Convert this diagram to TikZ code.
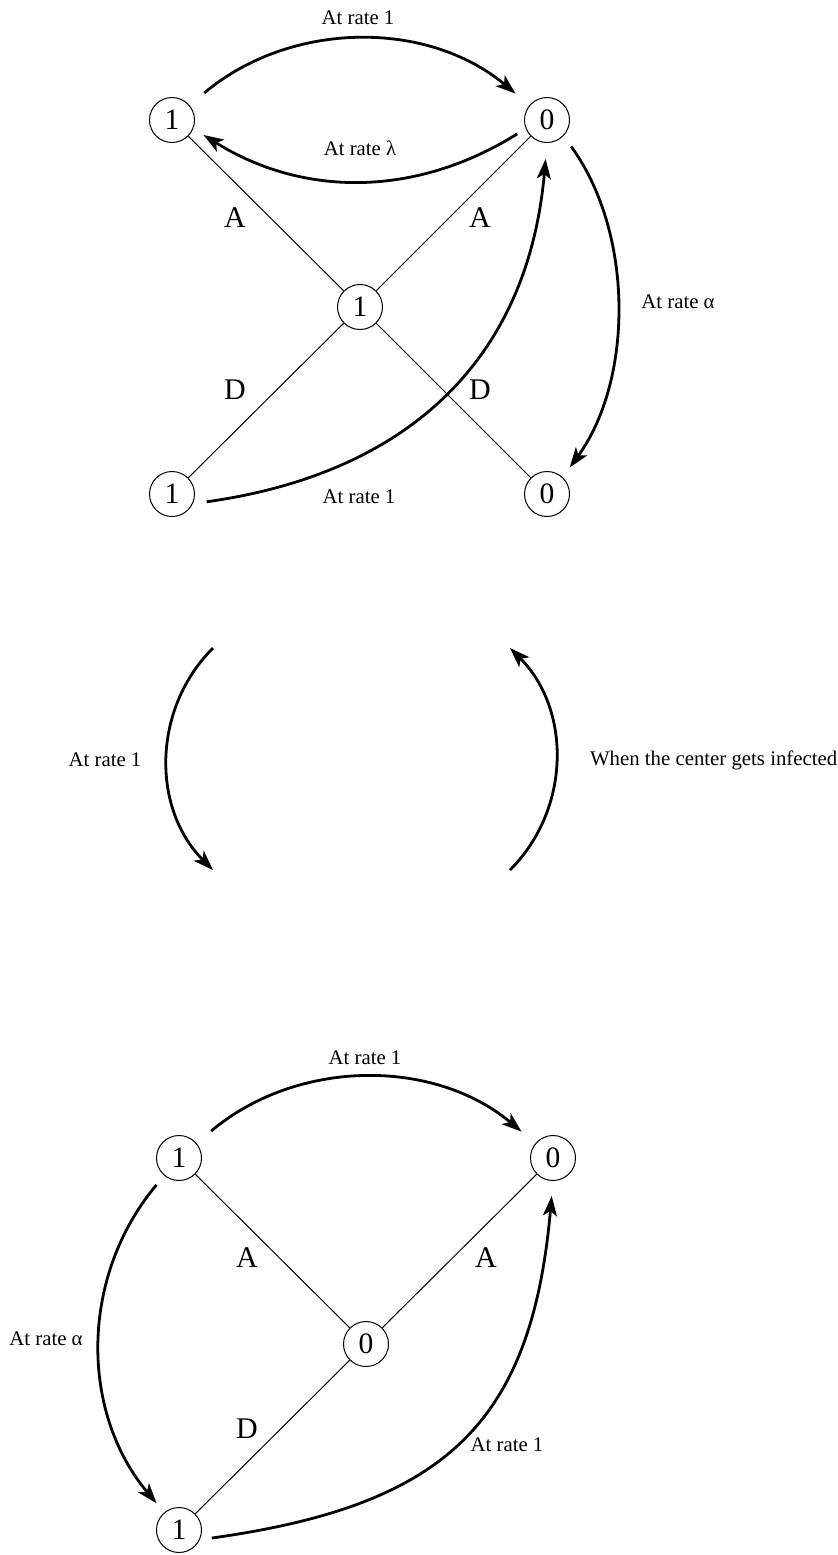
\documentclass[tikz,border=0pt]{standalone}
\usepackage{fontspec}
\setmainfont{Liberation Serif}
\usetikzlibrary{arrows.meta}

\begin{document}
\begin{tikzpicture}[x=0.5pt,y=-0.5pt,
  state/.style={circle,draw,line width=0.5pt,minimum size=22.5pt,inner sep=0pt,font=\fontsize{14.8}{16}\selectfont},
  edge/.style={line width=0.5pt},
  rate/.style={-{Stealth[length=10pt,width=7pt,inset=2.5pt]},line width=1.4pt},
  lbl/.style={font=\fontsize{10.4}{12}\selectfont},
  ltr/.style={font=\fontsize{15}{16}\selectfont}]
  \useasboundingbox (0,0) rectangle (838,1555);
  % Upper star
  \node[state] (ul) at (172,120) {1};
  \node[state] (ur) at (547,120) {0};
  \node[state] (uc) at (360,307) {1};
  \node[state] (udl) at (172,494) {1};
  \node[state] (udr) at (547,494) {0};
  \draw[edge] (ul) -- (uc) -- (udr);
  \draw[edge] (ur) -- (uc) -- (udl);
  \node[ltr] (ua1) at (235,218) {A}; \node[ltr] (ua2) at (480,218) {A};
  \node[ltr] (ud1) at (235,390) {D}; \node[ltr] (ud2) at (480,390) {D};
  % Upper rates
  \draw[rate,shorten <=9.5pt,shorten >=9pt] (ul.40) to[out=40,in=140] (ur.140);
  \draw[rate,shorten <=5pt,shorten >=6pt] (ur.-158) to[out=-148,in=-32] (ul.-22);
  \draw[rate,shorten <=6.5pt,shorten >=6pt] (ur.-44) to[out=-54,in=54,looseness=0.9] (udr.47);
  \draw[rate,shorten <=7pt,shorten >=8pt] (udl.-25) to[out=8,in=-95,looseness=1.1] (ur.-90);
  \node[lbl] (ur1) at (358,18) {At rate 1};
  \node[lbl] (url) at (360,148) {At rate λ};
  \node[lbl] (ura) at (678,302) {At rate α};
  \node[lbl] (ur2) at (359,497) {At rate 1};
  % Switching between the two states
  \coordinate (ma) at (213,648); \coordinate (mb) at (213,870);
  \coordinate (mc) at (510,870); \coordinate (md) at (510,648);
  \draw[rate] (ma) to[out=-135,in=135] (mb);
  \draw[rate] (mc) to[out=45,in=-45] (md);
  \node[lbl] (mr1) at (105,760) {At rate 1};
  \node[lbl,anchor=west] (mr2) at (583,760) {When the center gets infected};
  % Lower star
  \node[state] (ll) at (179,1158) {1};
  \node[state] (lr) at (553,1158) {0};
  \node[state] (lc) at (366,1344) {0};
  \node[state] (ldl) at (179,1530) {1};
  \draw[edge] (ll) -- (lc) -- (lr);
  \draw[edge] (lc) -- (ldl);
  \node[ltr] (la1) at (247,1258) {A}; \node[ltr] (la2) at (486,1258) {A};
  \node[ltr] (ld1) at (247,1429) {D};
  % Lower rates
  \draw[rate,shorten <=9.5pt,shorten >=9pt] (ll.40) to[out=40,in=140] (lr.140);
  \draw[rate,shorten <=6pt,shorten >=6pt] (ll.-130) to[out=-130,in=130] (ldl.130);
  \draw[rate,shorten <=6pt,shorten >=7.5pt] (ldl.-25) to[out=8,in=-95,looseness=1.25] (lr.-90);
  \node[lbl] (lr1) at (365,1058) {At rate 1};
  \node[lbl] (lra) at (46,1339) {At rate α};
  \node[lbl] (lr2) at (507,1445) {At rate 1};
\end{tikzpicture}
\end{document}
